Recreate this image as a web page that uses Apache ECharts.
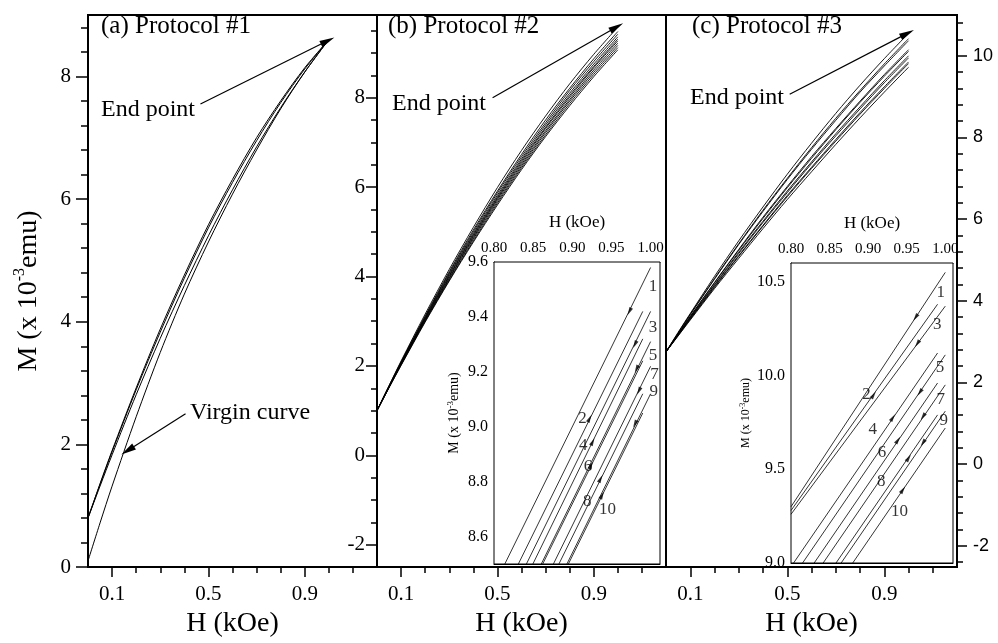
<!DOCTYPE html>
<html>
<head>
<meta charset="utf-8">
<script src="https://cdn.jsdelivr.net/npm/echarts@6/dist/echarts.min.js"></script>
<style>
html, body { margin: 0; padding: 0; background: #fff; }
#chart { width: 998px; height: 643px; }
</style>
</head>
<body>
<div id="chart"></div>
<script>
// field values (kOe) shared by all main-panel curves
var fieldH = [0, 0.05, 0.1, 0.2, 0.3, 0.4, 0.5, 0.6, 0.7, 0.8, 0.9, 1.0];

// (a) protocol #1 : virgin curve + return / re-magnetisation branches
var virginA = [0.1, 0.72, 1.32, 2.45, 3.50, 4.45, 5.30, 6.08, 6.80, 7.47, 8.07, 8.6];
var loopsA = [
    [0.8, 1.35, 1.88, 2.89, 3.83, 4.71, 5.53, 6.27, 6.95, 7.57, 8.12, 8.6],
    [0.8, 1.32, 1.83, 2.81, 3.73, 4.59, 5.40, 6.15, 6.85, 7.49, 8.07, 8.6],
    [0.8, 1.36, 1.90, 2.92, 3.88, 4.76, 5.58, 6.32, 7.00, 7.60, 8.14, 8.6]
];

// (b) protocol #2 : curves 1..10
var curvesB = [
    [1.0, 1.56, 2.11, 3.16, 4.16, 5.10, 5.99, 6.82, 7.59, 8.31, 8.97, 9.58],
    [1.0, 1.55, 2.09, 3.12, 4.11, 5.04, 5.91, 6.73, 7.50, 8.21, 8.87, 9.48],
    [1.0, 1.55, 2.08, 3.10, 4.08, 5.00, 5.87, 6.68, 7.44, 8.16, 8.81, 9.42],
    [1.0, 1.54, 2.07, 3.08, 4.05, 4.96, 5.82, 6.63, 7.39, 8.10, 8.75, 9.36],
    [1.0, 1.53, 2.06, 3.06, 4.02, 4.93, 5.78, 6.59, 7.34, 8.05, 8.70, 9.31],
    [1.0, 1.53, 2.05, 3.05, 4.00, 4.90, 5.75, 6.55, 7.31, 8.01, 8.67, 9.27],
    [1.0, 1.53, 2.04, 3.03, 3.97, 4.87, 5.72, 6.51, 7.26, 7.96, 8.62, 9.22],
    [1.0, 1.52, 2.03, 3.01, 3.95, 4.84, 5.68, 6.47, 7.22, 7.92, 8.57, 9.17],
    [1.0, 1.52, 2.02, 3.00, 3.92, 4.80, 5.64, 6.43, 7.17, 7.87, 8.52, 9.12],
    [1.0, 1.51, 2.01, 2.98, 3.90, 4.77, 5.60, 6.39, 7.13, 7.82, 8.47, 9.07]
];

// (c) protocol #3 : curves 1..10
var curvesC = [
    [2.75, 3.23, 3.69, 4.60, 5.47, 6.30, 7.10, 7.86, 8.59, 9.28, 9.93, 10.55],
    [2.75, 3.21, 3.67, 4.55, 5.40, 6.22, 7.00, 7.75, 8.47, 9.15, 9.80, 10.42],
    [2.75, 3.21, 3.66, 4.53, 5.38, 6.19, 6.97, 7.71, 8.42, 9.11, 9.75, 10.37],
    [2.75, 3.19, 3.62, 4.45, 5.26, 6.05, 6.80, 7.53, 8.22, 8.89, 9.54, 10.15],
    [2.75, 3.18, 3.61, 4.44, 5.24, 6.02, 6.77, 7.49, 8.19, 8.86, 9.50, 10.11],
    [2.75, 3.17, 3.59, 4.40, 5.19, 5.95, 6.69, 7.40, 8.09, 8.75, 9.39, 10.00],
    [2.75, 3.17, 3.58, 4.38, 5.16, 5.92, 6.65, 7.36, 8.04, 8.70, 9.34, 9.95],
    [2.75, 3.16, 3.56, 4.35, 5.11, 5.85, 6.58, 7.27, 7.95, 8.61, 9.24, 9.85],
    [2.75, 3.15, 3.55, 4.33, 5.09, 5.83, 6.55, 7.24, 7.91, 8.57, 9.20, 9.81],
    [2.75, 3.14, 3.53, 4.30, 5.04, 5.77, 6.48, 7.16, 7.83, 8.48, 9.11, 9.72]
];

// insets: each curve as [H start, M start, H end, M end]
var insetB = [
    [0.80, 8.42, 1.00, 9.58], [0.80, 8.32, 0.99, 9.42], [0.80, 8.26, 1.00, 9.42],
    [0.80, 8.21, 0.99, 9.32], [0.80, 8.15, 1.00, 9.31], [0.80, 8.14, 0.99, 9.24],
    [0.80, 8.06, 1.00, 9.22], [0.80, 8.02, 0.99, 9.12], [0.80, 7.96, 1.00, 9.12],
    [0.80, 7.95, 0.99, 9.05]
];
var insetC = [
    [0.80, 9.30, 1.00, 10.55], [0.80, 9.28, 0.99, 10.38], [0.80, 9.26, 1.00, 10.37],
    [0.80, 8.98, 0.99, 10.12], [0.80, 8.91, 1.00, 10.11], [0.80, 8.82, 0.99, 9.96],
    [0.80, 8.75, 1.00, 9.95], [0.80, 8.65, 0.99, 9.79], [0.80, 8.61, 1.00, 9.81],
    [0.80, 8.52, 1.00, 9.72]
];
// sweep arrows on the inset curves [H, M], odd curves point down, even curves up
var arrowsBDown = [[0.973, 9.42], [0.980, 9.30], [0.982, 9.21], [0.985, 9.13], [0.980, 9.01]];
var arrowsBUp = [[0.922, 9.03], [0.926, 8.945], [0.924, 8.86], [0.936, 8.81], [0.938, 8.75]];
var arrowsCDown = [[0.9615, 10.31], [0.9637, 10.17], [0.967, 9.91], [0.971, 9.78], [0.971, 9.64]];
var arrowsCUp = [[0.907, 9.896], [0.932, 9.775], [0.9386, 9.655], [0.9525, 9.56], [0.945, 9.39]];
// curve numbers [H, M, text]
var numbersB = [[1.003, 9.51, '1'], [0.913, 9.03, '2'], [1.003, 9.36, '3'], [0.914, 8.93, '4'], [1.003, 9.26, '5'],
    [0.920, 8.855, '6'], [1.005, 9.19, '7'], [0.919, 8.727, '8'], [1.004, 9.13, '9'], [0.945, 8.70, '10']];
var numbersC = [[0.994, 10.445, '1'], [0.898, 9.90, '2'], [0.9895, 10.27, '3'], [0.906, 9.71, '4'], [0.993, 10.04, '5'],
    [0.918, 9.588, '6'], [0.994, 9.87, '7'], [0.917, 9.436, '8'], [0.998, 9.76, '9'], [0.9407, 9.275, '10']];

// tick labels
var mainXLabels = [0.1, 0.5, 0.9];
var yLabelsA = [0, 2, 4, 6, 8];
var yLabelsB = [-2, 0, 2, 4, 6, 8];
var yLabelsC = [-2, 0, 2, 4, 6, 8, 10];
var insetXLabels = [0.80, 0.85, 0.90, 0.95, 1.00];
var insetYLabelsB = [8.6, 8.8, 9.0, 9.2, 9.4, 9.6];
var insetYLabelsC = [9.0, 9.5, 10.0, 10.5];

var serif = "'Liberation Serif', 'DejaVu Serif', serif";
var sans = "'Liberation Sans', 'DejaVu Sans', sans-serif";

var steps = function (from, to, step, skip) {
    var out = [];
    for (var i = 0; from + i * step <= to + 1e-9; i++) {
        var v = Math.round((from + i * step) * 1000) / 1000;
        if (!skip || skip.indexOf(v) < 0) out.push(v);
    }
    return out;
};

var axis = function (o) {
    return {
        type: 'value', gridIndex: o.grid, min: o.min, max: o.max, position: o.pos,
        axisLine: { show: o.line !== false, onZero: false, lineStyle: { color: '#000', width: o.lw || 2 } },
        axisTick: { show: true, inside: !!o.inside, length: o.len, customValues: o.ticks,
            lineStyle: { color: '#000', width: o.tw || 1.5 } },
        axisLabel: o.labels ? { show: true, customValues: o.labels, margin: o.margin, formatter: o.fmt,
            fontFamily: o.font || serif, fontSize: o.size, color: '#000' } : { show: false },
        splitLine: { show: false },
        name: o.name || '', nameLocation: 'middle', nameGap: o.nameGap, nameRotate: o.nameRotate,
        nameTextStyle: o.nameStyle
    };
};

var mName = function (big, small) {
    return {
        color: '#000',
        rich: {
            n: { fontFamily: serif, fontSize: big, color: '#000', lineHeight: big * 1.2 },
            s: { fontFamily: serif, fontSize: small, color: '#000', verticalAlign: 'top', lineHeight: big * 1.2 }
        }
    };
};
var hName = { fontFamily: serif, fontSize: 28, color: '#000' };
var insetName = { fontFamily: serif, fontSize: 17, color: '#000' };
var one = function (v) { return v.toFixed(1); };
var two = function (v) { return v.toFixed(2); };

var xMinor = steps(0.1, 1.1, 0.1, mainXLabels);
var mainX = function (g) {
    return axis({ grid: g, min: 0, max: 1.2, pos: 'bottom', len: 10, ticks: mainXLabels, labels: mainXLabels,
        margin: 17, fmt: one, size: 21, name: 'H (kOe)', nameGap: 41, nameStyle: hName });
};
var xAxes = [
    mainX(0), mainX(1), mainX(2),
    axis({ grid: 3, min: 0.8, max: 1.012, pos: 'top', inside: true, len: 4, lw: 1, tw: 1, ticks: insetXLabels, labels: insetXLabels,
        margin: 6, fmt: two, size: 15, name: 'H (kOe)', nameGap: 31, nameStyle: insetName }),
    axis({ grid: 4, min: 0.8, max: 1.01, pos: 'top', inside: true, len: 4, lw: 1, tw: 1, ticks: insetXLabels, labels: insetXLabels,
        margin: 6, fmt: two, size: 15, name: 'H (kOe)', nameGap: 31, nameStyle: insetName }),
    axis({ grid: 0, min: 0, max: 1.2, pos: 'bottom', line: false, len: 6, ticks: xMinor }),
    axis({ grid: 1, min: 0, max: 1.2, pos: 'bottom', line: false, len: 6, ticks: xMinor }),
    axis({ grid: 2, min: 0, max: 1.2, pos: 'bottom', line: false, len: 6, ticks: xMinor }),
    axis({ grid: 3, min: 0.8, max: 1.012, pos: 'top', line: false, inside: true, len: 2, tw: 0.8, ticks: steps(0.81, 1.01, 0.01, insetXLabels) }),
    axis({ grid: 4, min: 0.8, max: 1.01, pos: 'top', line: false, inside: true, len: 2, tw: 0.8, ticks: steps(0.81, 1.0, 0.01, insetXLabels) }),
    axis({ grid: 3, min: 0.8, max: 1.012, pos: 'bottom', lw: 1, inside: true, len: 3, tw: 0.8, ticks: steps(0.8, 1.01, 0.01) }),
    axis({ grid: 4, min: 0.8, max: 1.01, pos: 'bottom', lw: 1, inside: true, len: 3, tw: 0.8, ticks: steps(0.8, 1.0, 0.01) })
];
var yAxes = [
    axis({ grid: 0, min: 0, max: 9.0, pos: 'left', len: 12, ticks: yLabelsA, labels: yLabelsA, margin: 17, size: 21,
        name: '{n|M (x 10}{s|-3}{n|emu)}', nameGap: 43, nameRotate: 90, nameStyle: mName(28, 16) }),
    axis({ grid: 1, min: -2.5, max: 9.85, pos: 'left', len: 11, ticks: yLabelsB, labels: yLabelsB, margin: 12, size: 21 }),
    axis({ grid: 2, min: -2.52, max: 11.0, pos: 'right', len: 10, ticks: yLabelsC, labels: yLabelsC, margin: 16, size: 18, font: sans }),
    axis({ grid: 3, min: 8.5, max: 9.6, pos: 'left', inside: true, len: 4, lw: 1, tw: 1, ticks: insetYLabelsB, labels: insetYLabelsB,
        margin: 6, fmt: one, size: 16, name: '{n|M (x 10}{s|-3}{n|emu)}', nameGap: 31, nameRotate: 90, nameStyle: mName(14, 9) }),
    axis({ grid: 4, min: 9.0, max: 10.6, pos: 'left', inside: true, len: 4, lw: 1, tw: 1, ticks: insetYLabelsC, labels: insetYLabelsC,
        margin: 6, fmt: one, size: 16, name: '{n|M (x 10}{s|-3}{n|emu)}', nameGap: 38, nameRotate: 90, nameStyle: mName(12, 8) }),
    axis({ grid: 0, min: 0, max: 9.0, pos: 'left', line: false, len: 7, ticks: steps(0.4, 8.8, 0.4, yLabelsA) }),
    axis({ grid: 1, min: -2.5, max: 9.85, pos: 'left', line: false, len: 6, ticks: steps(-2.0, 9.5, 0.5, yLabelsB) }),
    axis({ grid: 2, min: -2.52, max: 11.0, pos: 'right', line: false, len: 6, ticks: steps(-2.4, 10.8, 0.4, yLabelsC) }),
    axis({ grid: 3, min: 8.5, max: 9.6, pos: 'left', line: false, inside: true, len: 2, tw: 0.8, ticks: steps(8.55, 9.55, 0.05, insetYLabelsB) }),
    axis({ grid: 4, min: 9.0, max: 10.6, pos: 'left', line: false, inside: true, len: 2, tw: 0.8, ticks: steps(9.1, 10.5, 0.1, insetYLabelsC) })
];

var pairs = function (ys) {
    return fieldH.map(function (h, i) { return [h, ys[i]]; });
};
var line = function (data, idx, width) {
    return {
        type: 'line', xAxisIndex: idx, yAxisIndex: idx, data: data, smooth: 0.3,
        showSymbol: false, symbol: 'none', silent: true, clip: true, z: 3,
        lineStyle: { color: '#000', width: width || 1 }
    };
};
var tri = 'path://M5 0L10 16L0 16Z';
var pointer = function (from, to) {
    return [{ coord: from, symbol: 'none' }, { coord: to, symbol: tri, symbolSize: [7, 15] }];
};
var pointers = function (list) {
    return { silent: true, symbol: ['none', tri], label: { show: false },
        lineStyle: { color: '#000', width: 1.2, type: 'solid' }, data: list };
};

var series = [];
var virgin = line(pairs(virginA), 0);
virgin.markLine = pointers([pointer([0.467, 7.55], [0.995, 8.58]), pointer([0.405, 2.5], [0.165, 1.9])]);
series.push(virgin);
loopsA.forEach(function (ys) { series.push(line(pairs(ys), 0)); });

curvesB.forEach(function (ys, i) {
    var s = line(pairs(ys), 1, 0.9);
    if (i === 0) s.markLine = pointers([pointer([0.48, 8.0], [0.995, 9.58])]);
    series.push(s);
});
curvesC.forEach(function (ys, i) {
    var s = line(pairs(ys), 2, 0.9);
    if (i === 0) s.markLine = pointers([pointer([0.51, 9.06], [0.995, 10.55])]);
    series.push(s);
});

var insetSeries = function (lines, idx, down, up, nums, angle) {
    lines.forEach(function (l) {
        var s = line([[l[0], l[1]], [l[2], l[3]]], idx, 0.8);
        s.smooth = false;
        s.z = 5;
        series.push(s);
    });
    series.push({
        type: 'scatter', xAxisIndex: idx, yAxisIndex: idx, silent: true, z: 6,
        symbol: tri, symbolSize: [4, 8], itemStyle: { color: '#000' },
        data: down.map(function (p) { return { value: p, symbolRotate: angle + 90 }; })
            .concat(up.map(function (p) { return { value: p, symbolRotate: angle - 90 }; }))
    });
    series.push({
        type: 'scatter', xAxisIndex: idx, yAxisIndex: idx, silent: true, z: 7,
        symbolSize: 0, data: nums,
        label: { show: true, position: 'inside', color: '#000', fontFamily: serif, fontSize: 17,
            formatter: function (p) { return p.value[2]; } }
    });
};
insetSeries(insetB, 3, arrowsBDown, arrowsBUp, numbersB, 64);
insetSeries(insetC, 4, arrowsCDown, arrowsCUp, numbersC, 56);

var txt = function (text, x, y, size) {
    return { type: 'text', x: x, y: y, z: 50, silent: true,
        style: { text: text, font: size + 'px ' + serif, fill: '#000', textVerticalAlign: 'middle', verticalAlign: 'middle' } };
};

var option = {
    animation: false,
    backgroundColor: '#fff',
    grid: [
        { left: 88, top: 15, width: 289, height: 558, show: true, borderColor: '#000', borderWidth: 2, backgroundColor: 'transparent' },
        { left: 377, top: 15, width: 289, height: 558, show: true, borderColor: '#000', borderWidth: 2, backgroundColor: 'transparent' },
        { left: 666, top: 15, width: 291, height: 558, show: true, borderColor: '#000', borderWidth: 2, backgroundColor: 'transparent' },
        { left: 494, top: 262, width: 166, height: 302, show: true, borderColor: '#000', borderWidth: 1, backgroundColor: '#fff', z: 4 },
        { left: 791, top: 263, width: 162, height: 300, show: true, borderColor: '#000', borderWidth: 1, backgroundColor: '#fff', z: 4 }
    ],
    xAxis: xAxes,
    yAxis: yAxes,
    series: series,
    graphic: [
        txt('(a) Protocol #1', 101, 26, 25),
        txt('(b) Protocol #2', 388, 26, 25),
        txt('(c) Protocol #3', 692, 26, 25),
        txt('End point', 101, 110, 24),
        txt('End point', 392, 104, 24),
        txt('End point', 690, 98, 24),
        txt('Virgin curve', 190, 413, 24)
    ]
};

var chart = echarts.init(document.getElementById('chart'));
chart.setOption(option);
</script>
</body>
</html>
